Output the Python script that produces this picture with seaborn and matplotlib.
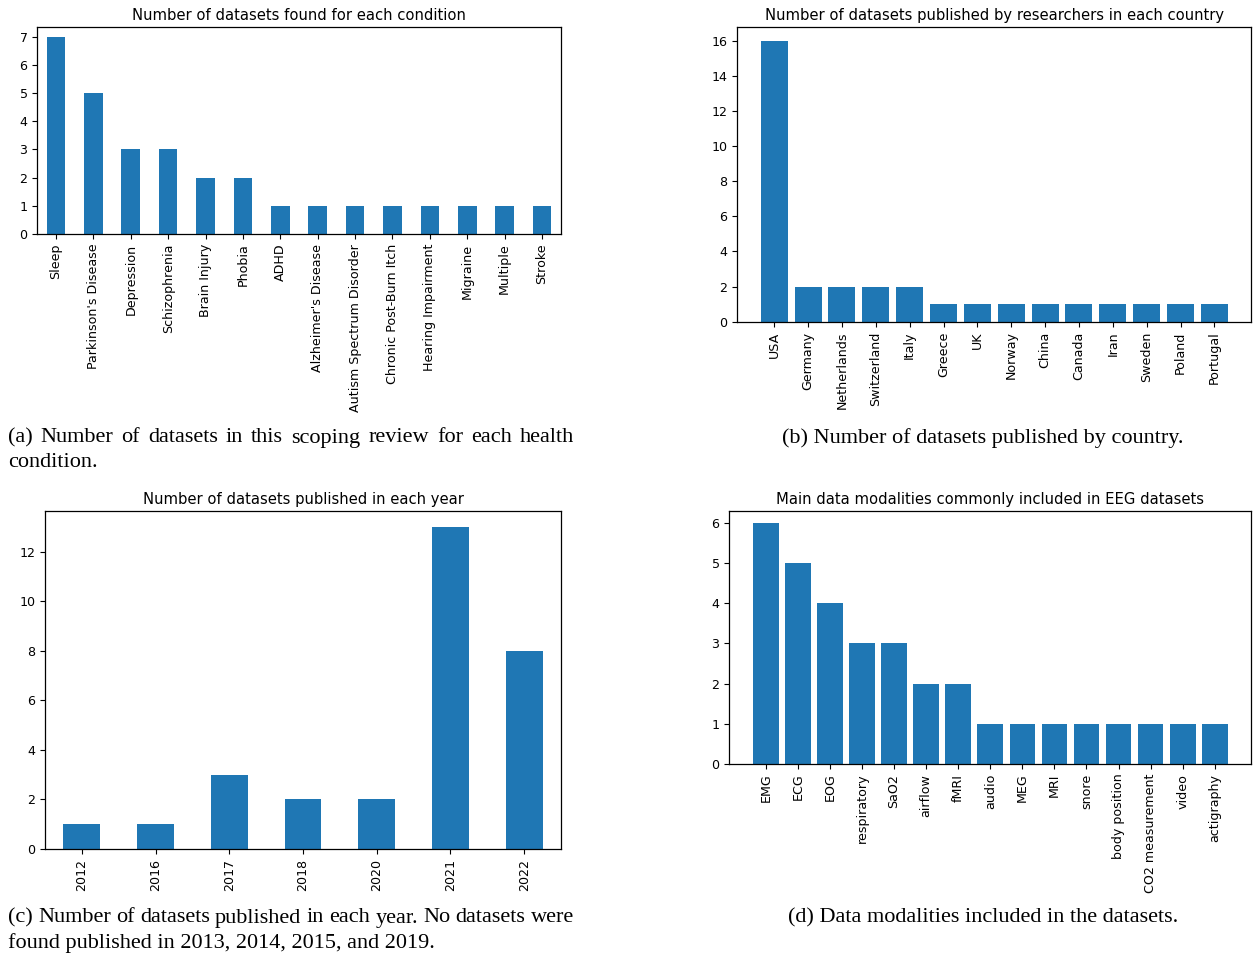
import matplotlib
matplotlib.use("Agg")
import matplotlib.pyplot as plt
import seaborn as sns
import pandas as pd

# Datasets per health condition
conditions = ["Sleep", "Parkinson's Disease", "Depression", "Schizophrenia", "Brain Injury",
              "Phobia", "ADHD", "Alzheimer's Disease", "Autism Spectrum Disorder",
              "Chronic Post-Burn Itch", "Hearing Impairment", "Migraine", "Multiple", "Stroke"]
condition_counts = [7, 5, 3, 3, 2, 2, 1, 1, 1, 1, 1, 1, 1, 1]

# Datasets per country of the publishing researchers
countries = ["USA", "Germany", "Netherlands", "Switzerland", "Italy", "Greece", "UK", "Norway",
             "China", "Canada", "Iran", "Sweden", "Poland", "Portugal"]
country_counts = [16, 2, 2, 2, 2, 1, 1, 1, 1, 1, 1, 1, 1, 1]

# Datasets per publication year
years = ["2012", "2016", "2017", "2018", "2020", "2021", "2022"]
year_counts = [1, 1, 3, 2, 2, 13, 8]

# Modalities recorded alongside EEG
modalities = ["EMG", "ECG", "EOG", "respiratory", "SaO2", "airflow", "fMRI", "audio", "MEG",
              "MRI", "snore", "body position", "CO2 measurement", "video", "actigraphy"]
modality_counts = [6, 5, 4, 3, 3, 2, 2, 1, 1, 1, 1, 1, 1, 1, 1]

titles = ["Number of datasets found for each condition",
          "Number of datasets published by researchers in each country",
          "Number of datasets published in each year",
          "Main data modalities commonly included in EEG datasets"]

caption_a = ["(a) Number of datasets in this scoping review for each health", "condition."]
caption_b = "(b) Number of datasets published by country."
caption_c = ["(c) Number of datasets published in each year. No datasets were",
             "found published in 2013, 2014, 2015, and 2019."]
caption_d = "(d) Data modalities included in the datasets."

sns.set_style("ticks")
plt.rcParams.update({
    "font.family": ["DejaVu Sans"],
    "axes.edgecolor": "black",
    "xtick.color": "black",
    "ytick.color": "black",
    "text.color": "black",
    "axes.labelcolor": "black",
    "axes.linewidth": 0.9,
})

BLUE = "#1f77b4"
W, H = 1254, 956
fig = plt.figure(figsize=(W / 100, H / 100), dpi=100)


def rect(left, top, right, bottom):
    return [left / W, 1 - bottom / H, (right - left) / W, (bottom - top) / H]


panels = [
    (rect(37.3, 26.7, 560.7, 234), conditions, condition_counts, 0.5, False),
    (rect(737.3, 26.7, 1251.3, 321.7), countries, country_counts, 0.8, True),
    (rect(45, 510.7, 561, 849), years, year_counts, 0.5, False),
    (rect(729.3, 510.7, 1251.3, 764), modalities, modality_counts, 0.8, True),
]

for i, (pos, labels, vals, width, pad) in enumerate(panels):
    ax = fig.add_axes(pos)
    df = pd.DataFrame({"label": labels, "count": vals})
    sns.barplot(data=df, x="label", y="count", ax=ax, color=BLUE, saturation=1,
                width=width, errorbar=None, linewidth=0)
    if pad:
        ax.autoscale(enable=True, axis="x")
        ax.margins(x=0.05)
        ax.autoscale_view()
    ax.set_xlabel("")
    ax.set_ylabel("")
    ax.set_title(titles[i], fontsize=10.6, pad=5)
    ax.tick_params(axis="x", labelrotation=90, labelsize=9.1)
    ax.tick_params(axis="y", labelsize=9.1)
    sns.despine(ax=ax, top=False, right=False)

# Sub-figure captions in serif type
CAP = dict(family="Liberation Serif", fontsize=16, va="center")
renderer = fig.canvas.get_renderer()


def justified_line(text, x0, x1, y):
    """Spread the words of one line evenly between x0 and x1 (pixels)."""
    words = text.split(" ")
    objs = [fig.text(0, 1 - y / H, w, ha="left", **CAP) for w in words]
    widths = [o.get_window_extent(renderer).width for o in objs]
    gap = (x1 - x0 - sum(widths)) / (len(words) - 1)
    x = x0
    for o, w in zip(objs, widths):
        o.set_x(x / W)
        x += w + gap


def plain_line(text, x, y, ha="left"):
    fig.text(x / W, 1 - y / H, text, ha=ha, **CAP)


justified_line(caption_a[0], 8, 574, 438)
plain_line(caption_a[1], 8, 463)
plain_line(caption_b, 983, 438, ha="center")
justified_line(caption_c[0], 8, 574, 918)
plain_line(caption_c[1], 8, 943)
plain_line(caption_d, 983, 918, ha="center")

fig.savefig("out.png", dpi=100)
